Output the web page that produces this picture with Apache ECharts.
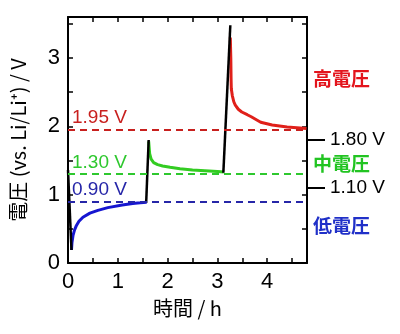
<!DOCTYPE html>
<html>
<head>
<meta charset="utf-8">
<script src="https://cdn.jsdelivr.net/npm/echarts@6/dist/echarts.min.js"></script>
<style>
  html, body { margin: 0; padding: 0; background: #fff; }
  #chart { width: 400px; height: 334px; }
</style>
</head>
<body>
<div id="chart"></div>
<script>
// Time (h) and potential (V vs. Li/Li+) for each stage of the run
const chargeStartT = [0.0, 0.07];
const chargeStartV = [1.36, 0.19];

const lowT = [0.07, 0.08, 0.10, 0.13, 0.17, 0.22, 0.30, 0.44, 0.60, 0.80, 1.09, 1.30, 1.45, 1.58];
const lowV = [0.19, 0.30, 0.40, 0.48, 0.55, 0.61, 0.67, 0.73, 0.77, 0.81, 0.85, 0.87, 0.88, 0.89];

const stepUp1T = [1.57, 1.62];
const stepUp1V = [0.88, 1.80];

const midT = [1.62, 1.64, 1.67, 1.72, 1.80, 1.90, 2.05, 2.25, 2.50, 2.75, 3.00, 3.13];
const midV = [1.78, 1.60, 1.52, 1.47, 1.44, 1.42, 1.40, 1.38, 1.36, 1.35, 1.34, 1.33];

const stepUp2T = [3.12, 3.26];
const stepUp2V = [1.32, 3.48];

const highT = [3.26, 3.27, 3.275, 3.28, 3.30, 3.33, 3.36, 3.42, 3.49, 3.60, 3.68, 3.87, 4.10, 4.40, 4.79];
const highV = [3.30, 3.00, 2.70, 2.55, 2.45, 2.36, 2.31, 2.25, 2.21, 2.17, 2.14, 2.06, 2.02, 1.99, 1.97];

// Reference potentials drawn as dashed lines
const refLevels = [1.95, 1.30, 0.90];
const refLabels = ['1.95 V', '1.30 V', '0.90 V'];
const refColors = ['#c8201e', '#2ec82e', '#2626a8'];

// Right-hand annotations
const rightTickValues = [1.80, 1.10];
const rightTickLabels = ['1.80 V', '1.10 V'];
const regionValues = [2.70, 1.455, 0.54];
const regionLabels = ['高電圧', '中電圧', '低電圧'];
const regionColors = ['#e3141c', '#22c422', '#2030c8'];

// Axis ranges and ticks
const xMin = 0, xMax = 4.8, yMin = 0, yMax = 3.6;
const tickStep = 0.5;

const FONT = '"Liberation Sans", Arial, "Noto Sans CJK JP", sans-serif';
const CJK = '"Noto Sans CJK JP", "Liberation Sans", sans-serif';

const zip = (t, v) => t.map((x, i) => [x, v[i]]);
const isInt = v => Math.abs(v - Math.round(v)) < 1e-6;
const pick = (vals, labels, v, dflt) => {
  const i = vals.findIndex(r => Math.abs(r - v) < 1e-6);
  return i >= 0 ? labels[i] : dflt;
};

const frameAxisLine = { show: true, onZero: false, lineStyle: { color: '#000', width: 2 } };
const hiddenAxisLine = { show: false, onZero: false };
const innerTick = { show: true, inside: true, length: 5, lineStyle: { color: '#000', width: 1.5 } };

const chart = echarts.init(document.getElementById('chart'), null, { renderer: 'canvas' });

const curve = (data, color, width, z) => ({
  type: 'line', data, showSymbol: false, symbol: 'none', z,
  lineStyle: { color, width }, animation: false
});

const refSeries = {
  type: 'line', data: [], xAxisIndex: 0, yAxisIndex: 0, z: 1,
  markLine: {
    silent: true, symbol: 'none', animation: false,
    data: refLevels.map((v, i) => ({
      yAxis: v,
      lineStyle: { color: refColors[i], type: [7, 5], width: 1.8 },
      label: {
        show: true, position: 'insideStartTop', formatter: refLabels[i],
        color: refColors[i], fontSize: 19, fontFamily: FONT, distance: [4, 2]
      }
    }))
  }
};

chart.setOption({
  animation: false,
  backgroundColor: '#fff',
  grid: { left: 60, right: 93, top: 17, bottom: 71, containLabel: false },
  xAxis: [
    {
      type: 'value', min: xMin, max: xMax, interval: tickStep, position: 'bottom',
      name: '時間 / h', nameLocation: 'middle', nameGap: 35,
      nameTextStyle: { fontSize: 20, fontFamily: CJK, color: '#000' },
      axisLine: frameAxisLine, axisTick: innerTick, splitLine: { show: false },
      axisLabel: {
        fontSize: 22, color: '#000', fontFamily: FONT, margin: 8, showMaxLabel: false,
        formatter: v => isInt(v) ? String(Math.round(v)) : ''
      }
    },
    {
      type: 'value', min: xMin, max: xMax, interval: tickStep, position: 'top',
      axisLine: frameAxisLine, axisTick: innerTick, splitLine: { show: false },
      axisLabel: { show: false }
    }
  ],
  yAxis: [
    {
      type: 'value', min: yMin, max: yMax, interval: tickStep, position: 'left',
      name: '電圧 (vs. Li/Li⁺) / V', nameLocation: 'middle', nameGap: 40, nameRotate: 90,
      nameTextStyle: { fontSize: 20, fontFamily: CJK, color: '#000' },
      axisLine: frameAxisLine, axisTick: innerTick, splitLine: { show: false },
      axisLabel: {
        fontSize: 22, color: '#000', fontFamily: FONT, margin: 8, showMaxLabel: false,
        formatter: v => isInt(v) ? String(Math.round(v)) : ''
      }
    },
    {
      type: 'value', min: yMin, max: yMax, interval: tickStep, position: 'right',
      axisLine: frameAxisLine, axisTick: innerTick, splitLine: { show: false },
      axisLabel: { show: false }
    },
    {
      type: 'value', min: yMin, max: yMax, position: 'right',
      axisLine: hiddenAxisLine, splitLine: { show: false },
      axisTick: { show: true, inside: false, length: 18, customValues: rightTickValues,
        lineStyle: { color: '#000', width: 2 } },
      axisLabel: {
        show: true, customValues: rightTickValues, margin: 23,
        fontSize: 19, color: '#000', fontFamily: FONT,
        formatter: v => pick(rightTickValues, rightTickLabels, v, '')
      }
    },
    {
      type: 'value', min: yMin, max: yMax, position: 'right',
      axisLine: hiddenAxisLine, splitLine: { show: false }, axisTick: { show: false },
      axisLabel: {
        show: true, customValues: regionValues, margin: 6,
        fontSize: 19, fontWeight: 'bold', fontFamily: CJK,
        color: v => pick(regionValues, regionColors, v, '#000'),
        formatter: v => pick(regionValues, regionLabels, v, '')
      }
    }
  ],
  series: [
    refSeries,
    curve(zip(lowT, lowV), '#1616d0', 3, 3),
    curve(zip(midT, midV), '#33cc22', 3, 3),
    curve(zip(highT, highV), '#e0201a', 3, 3),
    curve(zip(chargeStartT, chargeStartV), '#000', 2.5, 4),
    curve(zip(stepUp1T, stepUp1V), '#000', 2.5, 4),
    curve(zip(stepUp2T, stepUp2V), '#000', 2.5, 4)
  ]
});
</script>
</body>
</html>
